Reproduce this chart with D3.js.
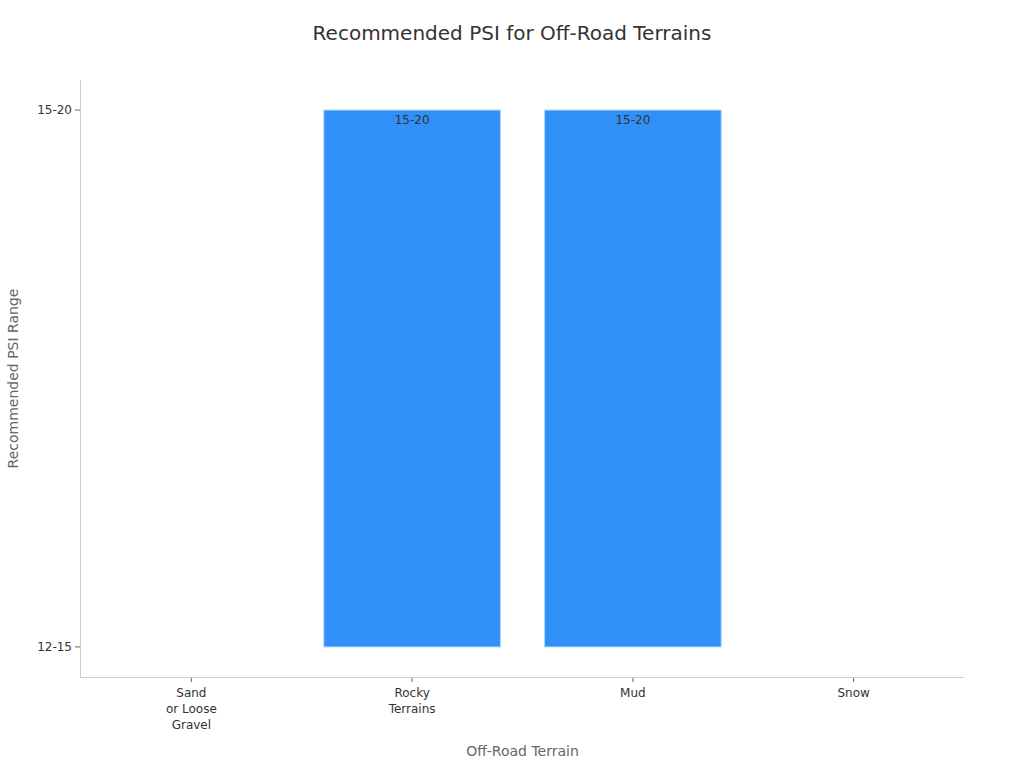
<!DOCTYPE html>
<html>
<head>
<meta charset="utf-8">
<script src="https://cdn.jsdelivr.net/npm/d3@7"></script>
<style>
  body { margin: 0; background: #fff; }
  text { font-family: "DejaVu Sans", sans-serif; }
</style>
</head>
<body>
<svg id="chart" width="1024" height="768"></svg>
<script>
// chart data
var terrains = ["Sand\nor Loose\nGravel", "Rocky\nTerrains", "Mud", "Snow"];
var psiRanges = ["12-15", "15-20"];
var psiValues = ["12-15", "15-20", "15-20", "12-15"];

var w = 1024, h = 768;
var plotLeft = 81, plotRight = 964, plotTop = 80, plotBottom = 677;

var svg = d3.select("#chart");

var x = d3.scaleBand()
  .domain(terrains)
  .range([plotLeft, plotRight])
  .paddingInner(0.2)
  .paddingOuter(0.1);

var xc = d3.scaleBand().domain(terrains).range([plotLeft, plotRight]);

var y = d3.scalePoint()
  .domain(psiRanges)
  .range([plotBottom, plotTop])
  .padding(0.056);

// title
svg.append("text")
  .attr("x", w / 2).attr("y", 40)
  .attr("text-anchor", "middle")
  .style("font-size", "20px")
  .style("fill", "#333")
  .text("Recommended PSI for Off-Road Terrains");

// axis lines
svg.append("line")
  .attr("x1", plotLeft - 0.5).attr("x2", plotLeft - 0.5)
  .attr("y1", plotTop).attr("y2", plotBottom)
  .style("stroke", "#ccc");
svg.append("line")
  .attr("x1", plotLeft - 1).attr("x2", plotRight)
  .attr("y1", plotBottom + 0.5).attr("y2", plotBottom + 0.5)
  .style("stroke", "#ccc");

// y ticks
var yt = svg.selectAll(".ytick").data(psiRanges).enter().append("g")
  .attr("transform", function(d){ return "translate(0," + y(d) + ")"; });
yt.append("line")
  .attr("x1", plotLeft - 6).attr("x2", plotLeft - 1)
  .style("stroke", "#666");
yt.append("text")
  .attr("x", plotLeft - 9).attr("dy", "0.35em")
  .attr("text-anchor", "end")
  .style("font-size", "12px").style("fill", "#333")
  .text(function(d){ return d; });

// x ticks
var xt = svg.selectAll(".xtick").data(terrains).enter().append("g")
  .attr("transform", function(d){ return "translate(" + (xc(d) + xc.bandwidth() / 2) + "," + plotBottom + ")"; });
xt.append("line")
  .attr("y1", 1).attr("y2", 5)
  .style("stroke", "#666");
xt.append("text")
  .attr("text-anchor", "middle")
  .style("font-size", "12px").style("fill", "#333")
  .selectAll("tspan")
  .data(function(d){ return d.split("\n"); })
  .enter().append("tspan")
  .attr("x", 0)
  .attr("y", function(d, i){ return 20 + i * 16; })
  .text(function(d){ return d; });

// bars
var base = y(psiRanges[0]);
var rows = terrains.map(function(t, i){ return {t: t, v: psiValues[i]}; });
svg.selectAll("rect.bar")
  .data(rows)
  .enter().append("rect")
  .attr("class", "bar")
  .attr("x", function(d){ return x(d.t); })
  .attr("width", x.bandwidth())
  .attr("y", function(d){ return y(d.v); })
  .attr("height", function(d){ return base - y(d.v); })
  .style("fill", "#2f91f8")
  .style("stroke", "#a8d4ff")
  .style("stroke-width", 1);

svg.selectAll("text.lbl")
  .data(rows.filter(function(d){ return d.v !== psiRanges[0]; }))
  .enter().append("text")
  .attr("class", "lbl")
  .attr("x", function(d){ return x(d.t) + x.bandwidth() / 2; })
  .attr("y", function(d){ return y(d.v) + 14; })
  .attr("text-anchor", "middle")
  .style("font-size", "12px").style("fill", "#333")
  .text(function(d){ return d.v; });

// axis titles
svg.append("text")
  .attr("x", (plotLeft + plotRight) / 2).attr("y", 756)
  .attr("text-anchor", "middle")
  .style("font-size", "14px").style("fill", "#666")
  .text("Off-Road Terrain");
svg.append("text")
  .attr("transform", "translate(18," + ((plotTop + plotBottom) / 2) + ") rotate(-90)")
  .attr("text-anchor", "middle")
  .style("font-size", "14px").style("fill", "#666")
  .text("Recommended PSI Range");
</script>
</body>
</html>
